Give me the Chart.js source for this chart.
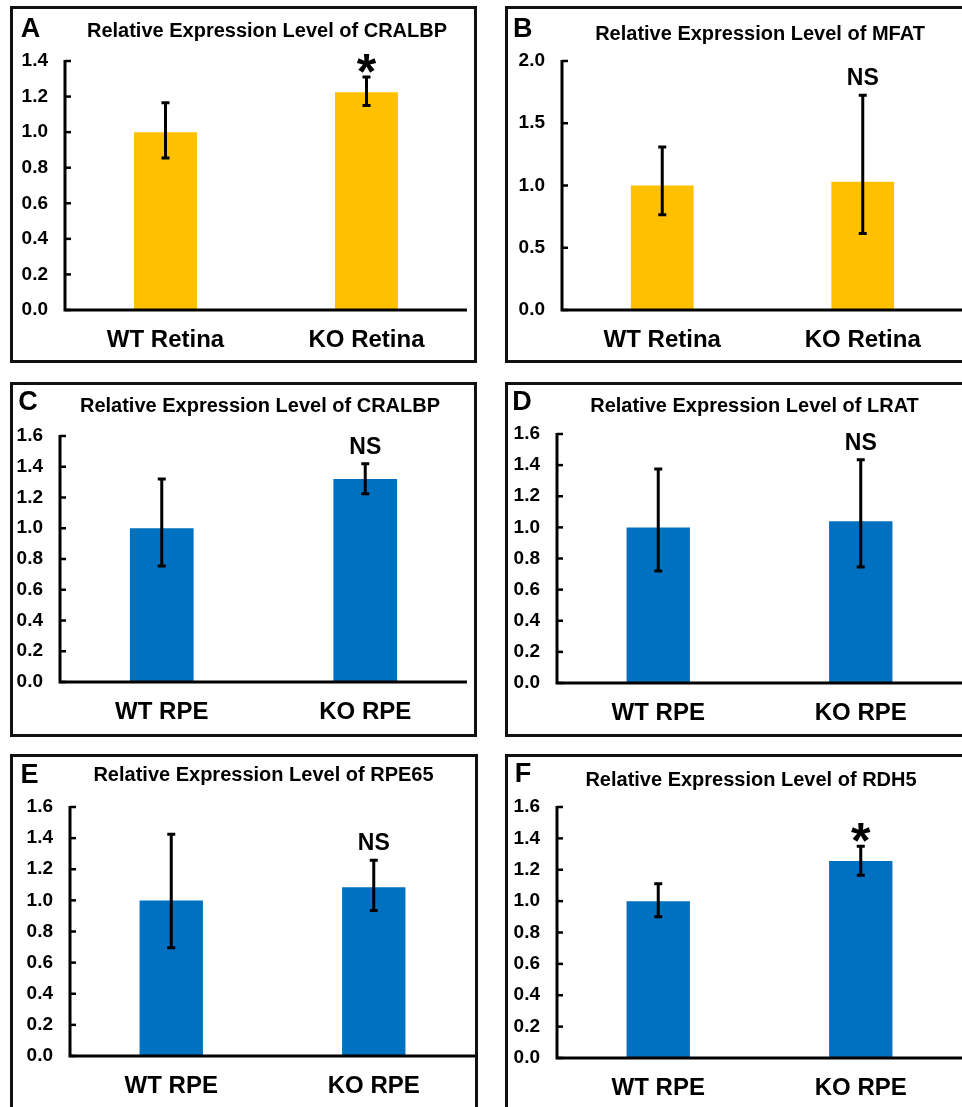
<!DOCTYPE html>
<html>
<head>
<meta charset="utf-8">
<script src="https://cdn.jsdelivr.net/npm/chart.js@4.4.1/dist/chart.umd.min.js"></script>
<style>
    html, body { margin: 0; padding: 0; background: #fff; overflow: hidden; }
    body { width: 962px; height: 1107px; position: relative; }
    .panel { position: absolute; border: 3px solid #111; box-sizing: border-box; background: #fff; overflow: hidden; }
    .panel canvas { position: absolute; left: 0; top: 0; }
</style>
</head>
<body>
<script>
// ---- data ----
const retinaLabels = ['WT Retina', 'KO Retina'];
const rpeLabels = ['WT RPE', 'KO RPE'];

// A: CRALBP, retina
const cralbpRetinaMean = [1.00, 1.225];
const cralbpRetinaHigh = [1.165, 1.31];
const cralbpRetinaLow = [0.855, 1.15];
const cralbpRetinaMarks = ['', '*'];

// B: MFAT, retina
const mfatRetinaMean = [1.00, 1.03];
const mfatRetinaHigh = [1.31, 1.725];
const mfatRetinaLow = [0.765, 0.615];
const mfatRetinaMarks = ['', 'NS'];

// C: CRALBP, RPE
const cralbpRpeMean = [1.00, 1.32];
const cralbpRpeHigh = [1.32, 1.42];
const cralbpRpeLow = [0.755, 1.225];
const cralbpRpeMarks = ['', 'NS'];

// D: LRAT, RPE
const lratRpeMean = [1.00, 1.04];
const lratRpeHigh = [1.375, 1.435];
const lratRpeLow = [0.72, 0.745];
const lratRpeMarks = ['', 'NS'];

// E: RPE65, RPE
const rpe65RpeMean = [1.00, 1.085];
const rpe65RpeHigh = [1.425, 1.258];
const rpe65RpeLow = [0.695, 0.935];
const rpe65RpeMarks = ['', 'NS'];

// F: RDH5, RPE
const rdh5RpeMean = [1.00, 1.255];
const rdh5RpeHigh = [1.11, 1.35];
const rdh5RpeLow = [0.90, 1.165];
const rdh5RpeMarks = ['', '*'];

// y axis ranges
const yMaxRetinaCralbp = 1.4, yStepRetinaCralbp = 0.2;
const yMaxMfat = 2.0, yStepMfat = 0.5;
const yMaxRpe = 1.6, yStepRpe = 0.2;

const YELLOW = '#FFC000';
const BLUE = '#0070C0';
const FONT = '"Liberation Sans", Arial, sans-serif';

// ---- panel layout (page pixels) ----
const panels = [
    { letter: 'A', title: 'Relative Expression Level of CRALBP', labels: retinaLabels,
      mean: cralbpRetinaMean, high: cralbpRetinaHigh, low: cralbpRetinaLow, marks: cralbpRetinaMarks,
      color: YELLOW, yMax: yMaxRetinaCralbp, yStep: yStepRetinaCralbp,
      box: { x: 10, y: 6, w: 467, h: 357 }, area: { l: 65, t: 61, r: 467, b: 310 },
      letterPos: [20.5, 21.5], titlePos: [257, 23.7] },
    { letter: 'B', title: 'Relative Expression Level of MFAT', labels: retinaLabels,
      mean: mfatRetinaMean, high: mfatRetinaHigh, low: mfatRetinaLow, marks: mfatRetinaMarks,
      color: YELLOW, yMax: yMaxMfat, yStep: yStepMfat,
      box: { x: 505, y: 6, w: 467, h: 357 }, area: { l: 562, t: 61, r: 963, b: 310 },
      letterPos: [17.7, 21.5], titlePos: [255, 26.5] },
    { letter: 'C', title: 'Relative Expression Level of CRALBP', labels: rpeLabels,
      mean: cralbpRpeMean, high: cralbpRpeHigh, low: cralbpRpeLow, marks: cralbpRpeMarks,
      color: BLUE, yMax: yMaxRpe, yStep: yStepRpe,
      box: { x: 10, y: 382, w: 467, h: 355 }, area: { l: 60, t: 436, r: 467, b: 682 },
      letterPos: [18, 18], titlePos: [250, 23] },
    { letter: 'D', title: 'Relative Expression Level of LRAT', labels: rpeLabels,
      mean: lratRpeMean, high: lratRpeHigh, low: lratRpeLow, marks: lratRpeMarks,
      color: BLUE, yMax: yMaxRpe, yStep: yStepRpe,
      box: { x: 505, y: 382, w: 467, h: 355 }, area: { l: 557, t: 434, r: 962, b: 683 },
      letterPos: [17, 18.7], titlePos: [249.5, 23] },
    { letter: 'E', title: 'Relative Expression Level of RPE65', labels: rpeLabels,
      mean: rpe65RpeMean, high: rpe65RpeHigh, low: rpe65RpeLow, marks: rpe65RpeMarks,
      color: BLUE, yMax: yMaxRpe, yStep: yStepRpe,
      box: { x: 10, y: 754, w: 468, h: 357 }, area: { l: 70, t: 807, r: 475, b: 1056 },
      letterPos: [19.5, 19], titlePos: [253.5, 20] },
    { letter: 'F', title: 'Relative Expression Level of RDH5', labels: rpeLabels,
      mean: rdh5RpeMean, high: rdh5RpeHigh, low: rdh5RpeLow, marks: rdh5RpeMarks,
      color: BLUE, yMax: yMaxRpe, yStep: yStepRpe,
      box: { x: 505, y: 754, w: 467, h: 357 }, area: { l: 557, t: 807, r: 962, b: 1058 },
      letterPos: [18, 18], titlePos: [246, 25] }
];

// text centred on its cap height
function capText(ctx, text, x, cy, size) {
    ctx.font = 'bold ' + size + 'px ' + FONT;
    ctx.textAlign = 'center';
    ctx.textBaseline = 'alphabetic';
    ctx.fillText(text, x, cy + 0.358 * size);
}

// axes, inner tick marks, error bars and annotations
function makeDecor(p) {
    return {
        id: 'decor' + p.letter,
        afterDatasetsDraw(chart) {
            const ctx = chart.ctx;
            const a = chart.chartArea;
            const y = chart.scales.y;
            const meta = chart.getDatasetMeta(0);
            ctx.save();
            ctx.strokeStyle = '#000';
            ctx.fillStyle = '#000';

            // axis lines
            ctx.lineWidth = 3;
            ctx.beginPath();
            ctx.moveTo(a.left, a.top - 1);
            ctx.lineTo(a.left, a.bottom);
            ctx.lineTo(a.right, a.bottom);
            ctx.stroke();

            // inner ticks
            ctx.lineWidth = 2.5;
            y.ticks.forEach(t => {
                const py = y.getPixelForValue(t.value);
                ctx.beginPath();
                ctx.moveTo(a.left, py);
                ctx.lineTo(a.left + 6, py);
                ctx.stroke();
            });

            // error bars
            meta.data.forEach((bar, i) => {
                const top = y.getPixelForValue(p.high[i]);
                const bot = y.getPixelForValue(p.low[i]);
                ctx.lineWidth = 3;
                ctx.beginPath();
                ctx.moveTo(bar.x, top);
                ctx.lineTo(bar.x, bot);
                ctx.moveTo(bar.x - 4, top);
                ctx.lineTo(bar.x + 4, top);
                ctx.moveTo(bar.x - 4, bot);
                ctx.lineTo(bar.x + 4, bot);
                ctx.stroke();

                const mark = p.marks[i];
                if (mark === 'NS') {
                    capText(ctx, mark, bar.x, top - 18, 23);
                } else if (mark === '*') {
                    ctx.font = 'bold 50px ' + FONT;
                    ctx.textAlign = 'center';
                    ctx.textBaseline = 'alphabetic';
                    ctx.fillText(mark, bar.x, top + 12);
                }
            });

            // panel letter and title
            capText(ctx, p.letter, p.letterPos[0] - 3, p.letterPos[1] - 3, 27);
            capText(ctx, p.title, p.titlePos[0] - 3, p.titlePos[1] - 3, 20);
            ctx.restore();
        }
    };
}

function makePanel(p) {
    const box = document.createElement('div');
    box.className = 'panel';
    box.style.left = p.box.x + 'px';
    box.style.top = p.box.y + 'px';
    box.style.width = p.box.w + 'px';
    box.style.height = p.box.h + 'px';
    document.body.appendChild(box);

    const cw = p.box.w - 6, ch = p.box.h - 6;
    const ox = p.box.x + 3, oy = p.box.y + 3;
    const canvas = document.createElement('canvas');
    canvas.width = cw;
    canvas.height = ch;
    canvas.style.width = cw + 'px';
    canvas.style.height = ch + 'px';
    box.appendChild(canvas);

    const yWidth = p.area.l - ox;
    const padTop = p.area.t - oy;
    const padRight = Math.max(0, cw - (p.area.r - ox));
    const xHeight = ch - (p.area.b - oy);

    new Chart(canvas.getContext('2d'), {
        type: 'bar',
        data: {
            labels: p.labels,
            datasets: [{
                data: p.mean,
                backgroundColor: p.color,
                borderWidth: 0,
                barPercentage: 0.313,
                categoryPercentage: 1.0
            }]
        },
        options: {
            responsive: false,
            animation: false,
            events: [],
            layout: { padding: { top: padTop, right: padRight, left: 0, bottom: 0 } },
            plugins: {
                legend: { display: false },
                tooltip: { enabled: false },
                title: { display: false }
            },
            scales: {
                x: {
                    grid: { display: false, drawTicks: false },
                    border: { display: false },
                    ticks: {
                        color: '#000',
                        padding: 16,
                        maxRotation: 0,
                        font: { family: FONT, size: 24, weight: 'bold' }
                    },
                    afterFit: s => { s.height = xHeight; }
                },
                y: {
                    min: 0,
                    max: p.yMax,
                    grid: { display: false, drawTicks: false },
                    border: { display: false },
                    ticks: {
                        stepSize: p.yStep,
                        color: '#000',
                        padding: 17,
                        font: { family: FONT, size: 19, weight: 'bold' },
                        callback: v => Number(v).toFixed(1)
                    },
                    afterFit: s => { s.width = yWidth; }
                }
            }
        },
        plugins: [makeDecor(p)]
    });
}

panels.forEach(makePanel);
</script>
</body>
</html>
